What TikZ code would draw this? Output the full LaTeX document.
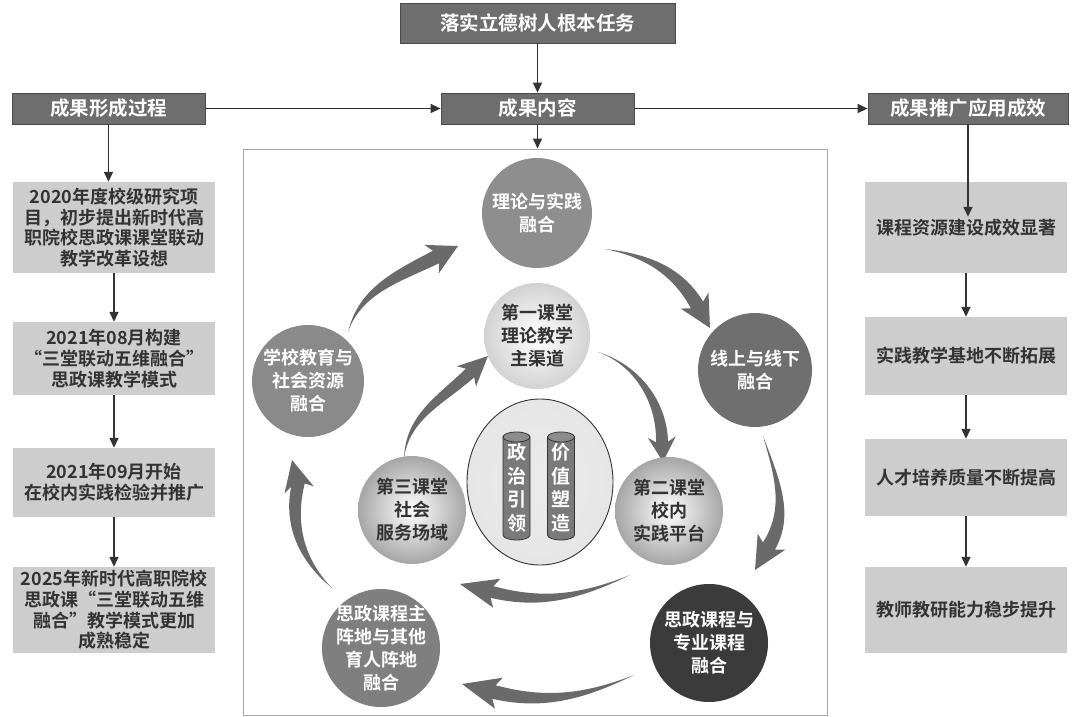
\documentclass[tikz,border=0pt]{standalone}
\usepackage{fontspec}
\setmainfont{Noto Sans CJK SC}[BoldFont={Noto Sans CJK SC Bold}]
\usetikzlibrary{calc,arrows.meta,shapes.geometric}
\definecolor{hdrfill}{HTML}{6E6E6E}
\definecolor{hdrline}{HTML}{4A4A4A}
\definecolor{sidefill}{HTML}{CDCDCD}
\definecolor{txtdark}{HTML}{333333}
\definecolor{linedark}{HTML}{333333}
\definecolor{framegray}{HTML}{A8A8A8}
\definecolor{arrowfill}{HTML}{6A6A6A}
\definecolor{cA}{HTML}{8E8E8E}
\definecolor{cB}{HTML}{6F6F6F}
\definecolor{cC}{HTML}{3B3B3B}
\definecolor{cD}{HTML}{7F7F7F}
\definecolor{cE}{HTML}{8A8A8A}
\definecolor{ballA}{HTML}{D2D2D2}
\definecolor{ballB}{HTML}{A6A6A6}
\definecolor{corefill}{HTML}{E6E6E6}
\definecolor{cylfill}{HTML}{7A7A7A}
\definecolor{cyltop}{HTML}{8C8C8C}
% #1 tail, #2 #3 controls, #4 head base, #5 tip, #6 body half width, #7 head half width
\newcommand\fatarrow[7]{%
  \path (#4) coordinate (fa-b) (#5) coordinate (fa-t);
  \path ($(fa-b)!-5pt!(fa-t)$) coordinate (fa-n);
  \path ($(fa-b)!#6!90:(fa-t)$) coordinate (fa-u);
  \path ($(fa-b)!#6!-90:(fa-t)$) coordinate (fa-d);
  \fill[bigarrow] (#1)
    .. controls ($(#2)+0.45*(fa-u)-0.45*(fa-b)$) and ($(#3)+0.85*(fa-u)-0.85*(fa-b)$) .. (fa-u)
    -- ($(fa-n)!#7!90:(fa-t)$) -- (fa-t) -- ($(fa-n)!#7!-90:(fa-t)$) -- (fa-d)
    .. controls ($(#3)+0.85*(fa-d)-0.85*(fa-b)$) and ($(#2)+0.45*(fa-d)-0.45*(fa-b)$) .. (#1) -- cycle;}
\begin{document}
\begin{tikzpicture}[x=1pt,y=-1pt,
  hdrbox/.style={draw=hdrline,fill=hdrfill,text=white,line width=0.8pt,inner sep=0pt,font=\fontsize{19.5}{22}\selectfont\bfseries},
  sidebox/.style={fill=sidefill,text=txtdark,inner sep=0pt,minimum width=202pt,align=center,font=\fontsize{18}{20.7}\selectfont\bfseries},
  flow/.style={draw=linedark,line width=1.5pt,-{Triangle[length=10pt,width=9pt]}},
  disc/.style={circle,inner sep=0pt},
  whitetxt/.style={align=center,text=white,inner sep=0pt,font=\fontsize{18}{23}\selectfont\bfseries},
  darktxt/.style={align=center,text=txtdark,inner sep=0pt,font=\fontsize{18}{23}\selectfont\bfseries},
  cyltxt/.style={align=center,text=white,inner sep=0pt,font=\fontsize{19}{23.5}\selectfont\bfseries},
  ballshade/.style={shading=radial,inner color=white,outer color=#1},
  bigarrow/.style={fill=arrowfill},
  cylbody/.style={draw=linedark,line width=0.8pt,fill=cylfill}]
\useasboundingbox (0,0) rectangle (1074,717);

% headers
\node[hdrbox,minimum width=275pt,minimum height=40pt] (top) at (537.5,23) {落实立德树人根本任务};
\node[hdrbox,minimum width=193pt,minimum height=31pt] (h1) at (108.5,108.5) {成果形成过程};
\node[hdrbox,minimum width=193pt,minimum height=31pt] (h2) at (537.5,108.5) {成果内容};
\node[hdrbox,minimum width=200pt,minimum height=31pt] (h3) at (968,108.5) {成果推广应用成效};

% frame
\node[draw=framegray,line width=1pt,minimum width=584pt,minimum height=566pt,inner sep=0pt] (frame) at (535,432) {};

% left column
\node[sidebox,minimum height=91pt] (l1) at (114,227.5) {2020年度校级研究项\\目，初步提出新时代高\\职院校思政课课堂联动\\教学改革设想};
\node[sidebox,minimum height=73pt] (l2) at (114,358.5) {2021年08月构建\\“三堂联动五维融合”\\思政课教学模式};
\node[sidebox,minimum height=69pt] (l3) at (114,482.5) {2021年09月开始\\在校内实践检验并推广};
\node[sidebox,minimum height=86pt] (l4) at (114,610) {2025年新时代高职院校\\思政课“三堂联动五维\\融合”教学模式更加\\成熟稳定};

% right column
\node[sidebox,minimum height=91pt] (r1) at (966,227.5) {课程资源建设成效显著};
\node[sidebox,minimum height=78pt] (r2) at (966,356) {实践教学基地不断拓展};
\node[sidebox,minimum height=77pt] (r3) at (966,477.5) {人才培养质量不断提高};
\node[sidebox,minimum height=86pt] (r4) at (966,610) {教师教研能力稳步提升};

% connectors
\draw[flow] (top.south) -- (h2.north);
\draw[flow] (h1.east) -- (h2.west);
\draw[flow] (h2.east) -- (h3.west);
\draw[flow] (h2.south) -- (h2.south |- frame.north);
\draw[flow] (h1.south) -- (h1.south |- l1.north);
\draw[flow] (l1.south) -- (l2.north);
\draw[flow] (l2.south) -- (l3.north);
\draw[flow] (l3.south) -- (l4.north);
\draw[flow] (h3.south) -- ($(h3.south |- r1.north)+(0,35)$);
\draw[flow] (r1.south) -- (r2.north);
\draw[flow] (r2.south) -- (r3.north);
\draw[flow] (r3.south) -- (r4.north);

% big curved arrows (outer cycle)
\fatarrow{605,249}{645,255}{677,270}{697,305}{710,328}{7pt}{16pt}
\fatarrow{763,436}{778,480}{789,512}{769,546}{755,570}{7pt}{16pt}
\fatarrow{634,675}{582,698}{542,704}{494,692}{462,684}{7pt}{16pt}
\fatarrow{332,588}{298,557}{290,520}{298,485}{292,460}{7pt}{15pt}
\fatarrow{348,332}{360,291}{396,277}{436,257}{458,246}{7pt}{16pt}
% inner cycle
\fatarrow{598,352}{637,365}{662,402}{662,442}{663,462}{6pt}{14pt}
\fatarrow{630,575}{578,598}{540,604}{492,592}{460,584}{6pt}{15pt}
\fatarrow{404,459}{407,417}{441,400}{470,373}{488,356}{6pt}{14pt}

% outer circles
\node[disc,fill=cA,minimum size=110pt] (c1) at (537,213) {};
\node[whitetxt] (c1t) at (c1) {理论与实践\\融合};
\node[disc,fill=cB,minimum size=114pt] (c2) at (755,370) {};
\node[whitetxt] (c2t) at (c2) {线上与线下\\融合};
\node[disc,fill=cC,minimum size=118pt] (c3) at (709,643) {};
\node[whitetxt] (c3t) at (c3) {思政课程与\\专业课程\\融合};
\node[disc,fill=cD,minimum size=118pt] (c4) at (381,648) {};
\node[whitetxt] (c4t) at (c4) {思政课程主\\阵地与其他\\育人阵地\\融合};
\node[disc,fill=cE,minimum size=112pt] (c5) at (308,381) {};
\node[whitetxt] (c5t) at (c5) {学校教育与\\社会资源\\融合};

% inner circles
\node[disc,ballshade=ballA,minimum size=106pt] (i1) at (537,336) {};
\node[darktxt] (i1t) at (i1) {第一课堂\\理论教学\\主渠道};
\node[disc,ballshade=ballB,minimum size=108pt] (i2) at (669,511) {};
\node[darktxt] (i2t) at (i2) {第二课堂\\校内\\实践平台};
\node[disc,ballshade=ballB,minimum size=108pt] (i3) at (412,510) {};
\node[darktxt] (i3t) at (i3) {第三课堂\\社会\\服务场域};

% core ellipse with two pillars
\node[ellipse,draw=linedark,line width=0.9pt,shading=radial,inner color=white!92!black,outer color=corefill,minimum width=146pt,minimum height=166pt,inner sep=0pt] (core) at (540,482) {};
\draw[cylbody] (503,437) -- (503,535) arc[start angle=180,end angle=0,x radius=13.5,y radius=5] -- (530,437) -- cycle;
\draw[cylbody,fill=cyltop] (516.5,437) ellipse[x radius=13.5,y radius=5];
\draw[cylbody] (547.5,437) -- (547.5,535) arc[start angle=180,end angle=0,x radius=13.5,y radius=5] -- (574.5,437) -- cycle;
\draw[cylbody,fill=cyltop] (561,437) ellipse[x radius=13.5,y radius=5];
\node[cyltxt] (p1) at (516.5,488) {政\\治\\引\\领};
\node[cyltxt] (p2) at (561,488) {价\\值\\塑\\造};
\end{tikzpicture}
\end{document}
